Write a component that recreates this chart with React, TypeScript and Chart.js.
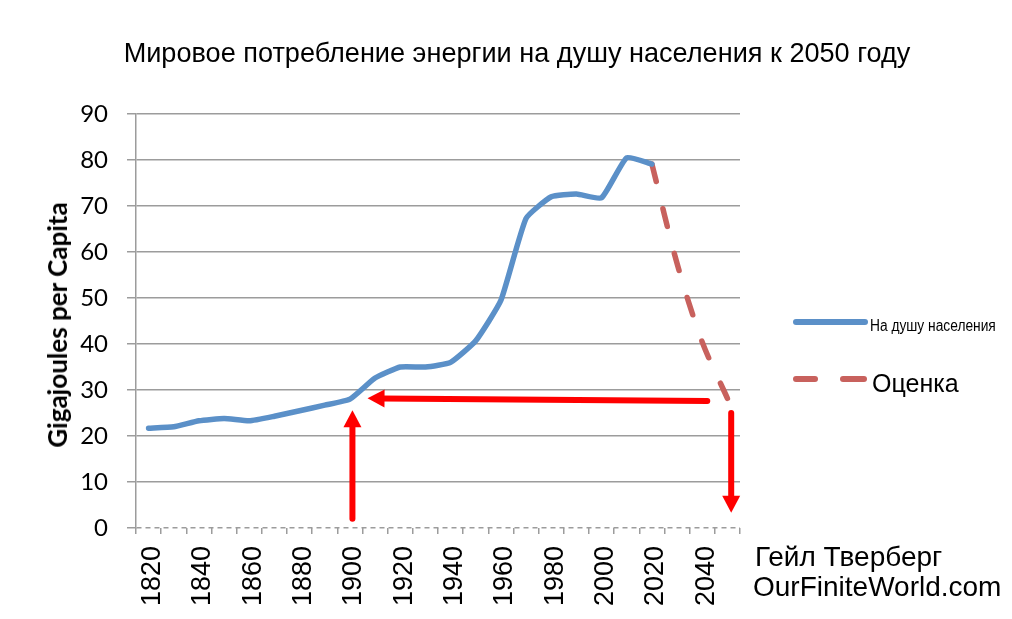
import React, { useEffect, useRef } from 'react';
import { Chart, registerables } from 'chart.js';

Chart.register(...registerables);

// ---- data ----
const years = [
  '1820', '1830', '1840', '1850', '1860', '1870', '1880', '1890', '1900', '1910', '1920', '1930',
  '1940', '1950', '1960', '1970', '1980', '1990', '2000', '2010', '2020', '2030', '2040', '2050',
];
const perCapita: (number | null)[] = [
  21.7, 22.0, 23.3, 23.8, 23.3, 24.3, 25.5, 26.7, 28.0, 32.6, 35.0, 35.0,
  36.0, 40.7, 49.5, 67.3, 72.0, 72.6, 71.8, 80.5, 79.1, null, null, null,
];
const estimate: (number | null)[] = [
  null, null, null, null, null, null, null, null, null, null, null, null,
  null, null, null, null, null, null, null, null, 79.1, 57.5, 40.4, 28.2,
];
const yMin = 0;
const yMax = 90;
const yStep = 10;

// annotation arrows, in [year, value]
const arrows = [
  { from: [1901.0, 2.0], to: [1901.0, 25.6] },
  { from: [2042.0, 27.6], to: [1907.0, 28.2] },
  { from: [2051.5, 25.0], to: [2051.5, 3.3] },
];

const titleText = 'Мировое потребление энергии на душу населения к 2050 году';
const yTitle = 'Gigajoules per Capita';
const seriesNames = ['На душу населения', 'Оценка'];
const credits = ['Гейл Тверберг', 'OurFiniteWorld.com'];

const BLUE = '#5b90c8';
const RED_DASH = '#c8615d';
const ARROW = '#ff0000';
const GRID = '#9c9c9c';
const ARIAL = '"Liberation Sans", Arial, sans-serif';

const arrowPlugin = {
  id: 'arrows',
  afterDatasetsDraw(chart: any) {
    const { ctx, scales } = chart;
    const xs = scales.x;
    const ys = scales.y;
    const px = (yr: number) => xs.getPixelForValue((yr - 1820) / 10);
    ctx.save();
    ctx.strokeStyle = ARROW;
    ctx.fillStyle = ARROW;
    ctx.lineWidth = 6;
    ctx.lineCap = 'round';
    arrows.forEach((a) => {
      const x1 = px(a.from[0]);
      const y1 = ys.getPixelForValue(a.from[1]);
      const x2 = px(a.to[0]);
      const y2 = ys.getPixelForValue(a.to[1]);
      const ang = Math.atan2(y2 - y1, x2 - x1);
      const headLen = 17;
      const headHalf = 9;
      const bx = x2 - Math.cos(ang) * headLen;
      const by = y2 - Math.sin(ang) * headLen;
      ctx.beginPath();
      ctx.moveTo(x1, y1);
      ctx.lineTo(bx + Math.cos(ang) * 2, by + Math.sin(ang) * 2);
      ctx.stroke();
      ctx.beginPath();
      ctx.moveTo(x2, y2);
      ctx.lineTo(bx + Math.sin(ang) * headHalf, by - Math.cos(ang) * headHalf);
      ctx.lineTo(bx - Math.sin(ang) * headHalf, by + Math.cos(ang) * headHalf);
      ctx.closePath();
      ctx.fill();
    });
    ctx.restore();
  },
};

function Txt(props: {
  x: number; base: number; size: number; children: React.ReactNode;
  family?: string; weight?: number; sx?: number; center?: boolean;
}) {
  const { x, base, size, children, family = ARIAL, weight = 400, sx = 1, center = false } = props;
  return (
    <div
      style={{
        position: 'absolute',
        left: x,
        top: base - 0.8465 * size,
        fontFamily: family,
        fontWeight: weight,
        fontSize: size,
        lineHeight: 1,
        whiteSpace: 'nowrap',
        color: '#000',
        transformOrigin: center ? 'center' : 'left',
        transform: `${center ? 'translateX(-50%) ' : ''}scaleX(${sx})`,
      }}
    >
      {children}
    </div>
  );
}

export default function App() {
  const canvasRef = useRef<HTMLCanvasElement | null>(null);

  useEffect(() => {
    document.body.style.margin = '0';
    const canvas = canvasRef.current;
    if (!canvas) return;
    const chart = new Chart(canvas, {
      type: 'line',
      data: {
        labels: years,
        datasets: [
          {
            label: seriesNames[0],
            data: perCapita,
            borderColor: BLUE,
            backgroundColor: BLUE,
            borderWidth: 5.5,
            pointRadius: 0,
            tension: 0.15,
            borderCapStyle: 'round',
            borderJoinStyle: 'round',
            spanGaps: false,
          },
          {
            label: seriesNames[1],
            data: estimate,
            borderColor: RED_DASH,
            backgroundColor: RED_DASH,
            borderWidth: 5.5,
            borderDash: [18, 28],
            pointRadius: 0,
            tension: 0.3,
            borderCapStyle: 'round',
            spanGaps: false,
          },
        ],
      },
      options: {
        animation: false,
        responsive: true,
        maintainAspectRatio: false,
        layout: { padding: { top: 114, right: 272, bottom: 0, left: 0 } },
        plugins: {
          legend: { display: false },
          title: { display: false },
          tooltip: { enabled: false },
        },
        scales: {
          x: {
            type: 'category',
            offset: true,
            border: { display: false },
            grid: {
              offset: true,
              drawOnChartArea: false,
              drawTicks: true,
              tickLength: 6,
              color: GRID,
              lineWidth: 1.5,
            },
            ticks: {
              autoSkip: false,
              maxRotation: 90,
              minRotation: 90,
              padding: 12,
              labelOffset: 4,
              color: '#000',
              font: { family: ARIAL, size: 27 },
              callback: (_v: any, i: number) => (i % 2 === 0 ? years[i] : ''),
            },
            afterFit: (s: any) => { s.height = 91; },
          },
          y: {
            min: yMin,
            max: yMax,
            border: {
              display: true,
              color: GRID,
              width: 1.5,
              dash: (c: any) => (c.tick && c.tick.value === 0 ? [5, 4] : []),
            },
            grid: {
              color: GRID,
              lineWidth: 1.5,
              tickLength: 9,
              drawTicks: true,
            },
            ticks: {
              stepSize: yStep,
              padding: 19,
              color: '#000',
              font: { family: 'Lato, "Open Sans", sans-serif', size: 24 },
            },
            afterFit: (s: any) => { s.width = 136; },
          },
        },
      },
      plugins: [arrowPlugin],
    } as any);
    return () => chart.destroy();
  }, []);

  return (
    <div style={{ position: 'absolute', left: 0, top: 0, width: 1012, height: 619, background: '#fff', overflow: 'hidden' }}>
      <canvas ref={canvasRef} style={{ position: 'absolute', left: 0, top: 0 }} />
      <Txt x={516.5} base={63} size={28} sx={0.968} center>{titleText}</Txt>
      <div
        style={{
          position: 'absolute',
          left: 57,
          top: 325,
          fontFamily: 'Lato, "Open Sans", sans-serif',
          fontWeight: 700,
          fontSize: 26,
          lineHeight: 1,
          whiteSpace: 'nowrap',
          color: '#000',
          transform: 'translate(-50%, -50%) rotate(-90deg)',
        }}
      >
        {yTitle}
      </div>
      {/* legend */}
      <div style={{ position: 'absolute', left: 793, top: 319, width: 75, height: 6, borderRadius: 3, background: BLUE }} />
      <Txt x={870} base={331.7} size={16} sx={0.86}>{seriesNames[0]}</Txt>
      <div style={{ position: 'absolute', left: 793, top: 376, width: 25, height: 6, borderRadius: 3, background: RED_DASH }} />
      <div style={{ position: 'absolute', left: 840, top: 376, width: 27, height: 6, borderRadius: 3, background: RED_DASH }} />
      <Txt x={872} base={391.7} size={25}>{seriesNames[1]}</Txt>
      {/* credits */}
      <Txt x={755} base={567} size={28}>{credits[0]}</Txt>
      <Txt x={753} base={597} size={28}>{credits[1]}</Txt>
    </div>
  );
}
